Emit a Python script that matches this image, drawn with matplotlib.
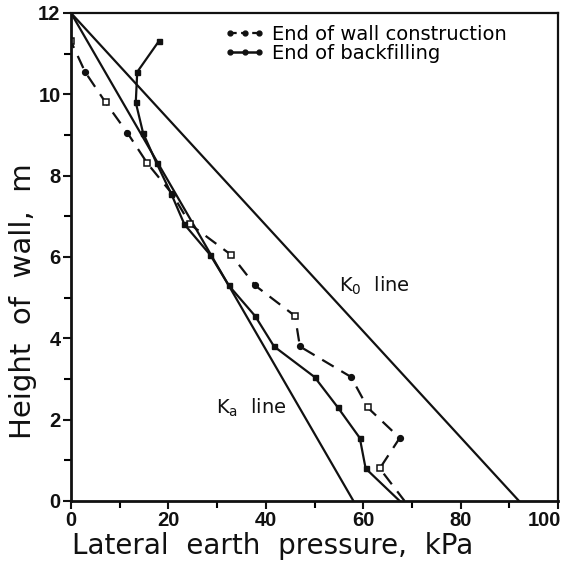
import matplotlib
matplotlib.use("Agg")
import matplotlib.pyplot as plt
from matplotlib.lines import Line2D
from matplotlib.transforms import ScaledTranslation

# ---- data ----
heights = [11.3, 10.55, 9.8, 9.05, 8.3, 7.55, 6.8, 6.05, 5.3, 4.55, 3.8, 3.05, 2.3, 1.55, 0.8]

wall_constr = [0.0, 2.9, 7.1, 11.6, 15.7, 20.8, 24.5, 32.9, 37.8, 46.0, 47.0, 57.5, 60.9, 67.5, 63.4]
wall_top = (12.0, 0.0)      # (height, pressure) start of dashed curve
wall_base = (0.0, 68.5)     # (height, pressure) end of dashed curve
wall_square_idx = [0, 2, 4, 6, 7, 9, 12, 14]
wall_dot_idx = [1, 3, 5, 8, 10, 11, 13]

backfill = [18.0, 13.6, 13.3, 14.8, 17.6, 20.6, 23.3, 28.6, 32.4, 37.8, 41.7, 50.0, 54.8, 59.3, 60.5]
backfill_base = (0.0, 67.5)

k0_line_x = [0, 92]
ka_line_x = [0, 58]
k_line_y = [12, 0]

x_ticks = [0, 20, 40, 60, 80, 100]
y_ticks = [0, 2, 4, 6, 8, 10, 12]

# ---- figure ----
fig = plt.figure(figsize=(5.76, 5.65), dpi=100)
ax = fig.add_axes([71/576, 1 - 501/565, 487/576, 488/565])

ink = "#111111"

# K lines
ax.plot(k0_line_x, k_line_y, color=ink, lw=1.6)
ax.plot(ka_line_x, k_line_y, color=ink, lw=1.6)

# End of wall construction (dashed)
wx = [wall_top[1]] + wall_constr + [wall_base[1]]
wy = [wall_top[0]] + heights + [wall_base[0]]
ax.plot(wx, wy, color=ink, lw=1.6, ls=(0, (6, 4)))
ax.plot([wall_constr[i] for i in wall_square_idx], [heights[i] for i in wall_square_idx],
        ls="none", marker="s", ms=3.8, mfc="white", mec=ink, mew=1.1)
ax.plot([wall_constr[i] for i in wall_dot_idx], [heights[i] for i in wall_dot_idx],
        ls="none", marker="o", ms=4.2, mfc=ink, mec=ink)

# End of backfilling (solid)
bx = backfill + [backfill_base[1]]
by = heights + [backfill_base[0]]
ax.plot(bx, by, color=ink, lw=1.6)
ax.plot(backfill, heights, ls="none", marker="s", ms=3.6, mfc=ink, mec=ink)

ax.set_xlim(0, 100)
ax.set_ylim(0, 12)
ax.set_xticks(x_ticks)
ax.set_yticks(y_ticks)
ax.set_xticks(range(10, 100, 20), minor=True)
ax.set_yticks(range(1, 12, 2), minor=True)
ax.tick_params(which="major", direction="out", length=6, width=1.5, labelsize=14.5, colors=ink, pad=1.5)
ax.tick_params(which="minor", direction="out", length=5, width=1.5)
for lab in ax.get_xticklabels() + ax.get_yticklabels():
    lab.set_fontweight("bold")
    lab.set_family("Liberation Sans")
last = ax.get_xticklabels()[-1]
last.set_transform(last.get_transform() + ScaledTranslation(-14/100, 0, fig.dpi_scale_trans))

for side in ["left", "bottom"]:
    ax.spines[side].set_linewidth(2.0)
for side in ["top", "right"]:
    ax.spines[side].set_linewidth(1.6)
for s in ax.spines.values():
    s.set_color(ink)

ax.set_xlabel("Lateral  earth  pressure,  kPa", fontsize=20, color=ink)
ax.xaxis.set_label_coords(0.413, -0.064)
ax.set_ylabel("Height  of  wall,  m", fontsize=21, color=ink)
ax.yaxis.set_label_coords(-0.07, 0.41)

ax.text(55.0, 5.3, r"$\mathregular{K_0}$  line", fontsize=14, va="center", ha="left", color=ink)
ax.text(29.7, 2.28, r"$\mathregular{K_a}$  line", fontsize=14, va="center", ha="left", color=ink)

handles = [
    Line2D([], [], color=ink, lw=1.6, ls=(0, (3, 2)), marker="o", ms=3.5),
    Line2D([], [], color=ink, lw=1.8, marker="o", ms=3.5, markevery=[0, -1]),
]
ax.legend(handles, ["End of wall construction", "End of backfilling"],
          loc="upper left", bbox_to_anchor=(0.295, 0.995), frameon=False,
          fontsize=14, handlelength=2.1, handletextpad=0.35, labelspacing=0.0,
          borderpad=0, numpoints=3)

fig.savefig("out.png", dpi=100)
